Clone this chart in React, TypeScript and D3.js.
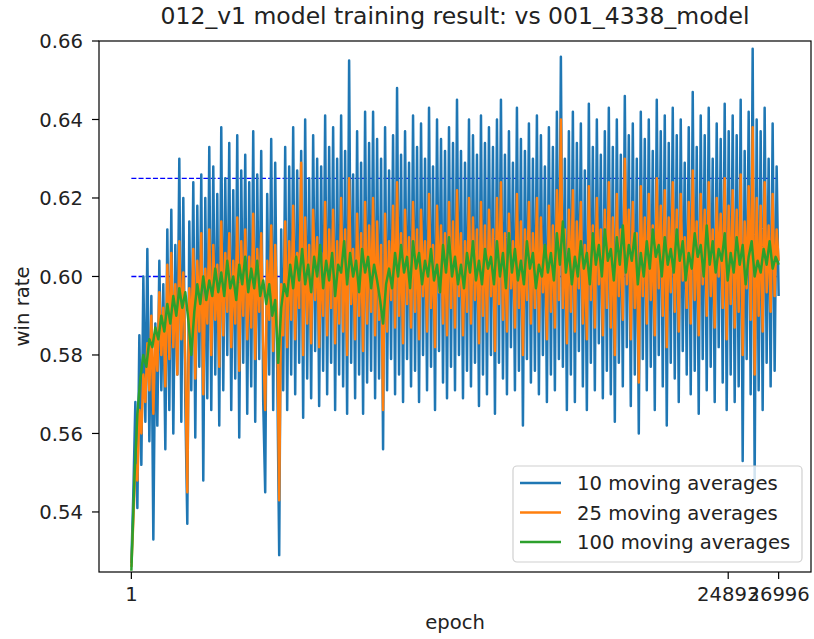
import React from "react";
import * as d3 from "d3";

const TITLE = "012_v1 model training result: vs 001_4338_model";
const X_LABEL = "epoch";
const Y_LABEL = "win rate";
const FIRST_EPOCH = 1;
const LAST_EPOCH = 26996;
const X_TICKS = [1, 24893, 26996];
const Y_TICKS = [0.54, 0.56, 0.58, 0.6, 0.62, 0.64, 0.66];
const REF_LINES = [0.625, 0.6];
const SERIES_NAMES = ["10 moving averages", "25 moving averages", "100 moving averages"];
const COLORS = ["#1f77b4", "#ff7f0e", "#2ca02c"];

const ma10 = [
  0.527, 0.545, 0.568, 0.541, 0.585, 0.552, 0.600, 0.563, 0.607, 0.558, 0.595, 0.533, 0.588, 0.562, 0.604, 0.571, 0.598, 0.556, 0.612, 0.566,
  0.617, 0.560, 0.608, 0.575, 0.630, 0.563, 0.620, 0.568, 0.537, 0.614, 0.571, 0.624, 0.559, 0.618, 0.577, 0.626, 0.548, 0.620, 0.569, 0.633,
  0.566, 0.628, 0.575, 0.621, 0.562, 0.638, 0.571, 0.625, 0.580, 0.634, 0.566, 0.622, 0.574, 0.636, 0.559, 0.627, 0.578, 0.631, 0.565, 0.624,
  0.572, 0.637, 0.563, 0.626, 0.579, 0.632, 0.568, 0.545, 0.621, 0.575, 0.635, 0.566, 0.629, 0.577, 0.529, 0.612, 0.571, 0.633, 0.566, 0.628,
  0.575, 0.638, 0.570, 0.627, 0.578, 0.632, 0.564, 0.640, 0.574, 0.625, 0.569, 0.636, 0.581, 0.630, 0.567, 0.628, 0.576, 0.641, 0.570, 0.633,
  0.578, 0.638, 0.566, 0.630, 0.575, 0.641, 0.572, 0.632, 0.565, 0.655, 0.578, 0.626, 0.569, 0.637, 0.575, 0.629, 0.565, 0.642, 0.573, 0.634,
  0.576, 0.642, 0.569, 0.635, 0.574, 0.630, 0.556, 0.638, 0.571, 0.627, 0.579, 0.636, 0.570, 0.648, 0.575, 0.631, 0.568, 0.637, 0.579, 0.629,
  0.572, 0.641, 0.576, 0.633, 0.568, 0.639, 0.580, 0.630, 0.571, 0.643, 0.577, 0.628, 0.566, 0.640, 0.581, 0.635, 0.573, 0.632, 0.569, 0.638,
  0.577, 0.634, 0.571, 0.645, 0.580, 0.632, 0.569, 0.629, 0.576, 0.640, 0.572, 0.636, 0.578, 0.631, 0.567, 0.641, 0.575, 0.634, 0.570, 0.638,
  0.580, 0.633, 0.565, 0.640, 0.578, 0.645, 0.574, 0.631, 0.570, 0.637, 0.582, 0.629, 0.571, 0.643, 0.576, 0.635, 0.562, 0.632, 0.579, 0.639,
  0.573, 0.630, 0.576, 0.641, 0.570, 0.636, 0.580, 0.628, 0.568, 0.638, 0.575, 0.633, 0.571, 0.642, 0.579, 0.656, 0.577, 0.630, 0.566, 0.637,
  0.575, 0.642, 0.568, 0.634, 0.581, 0.639, 0.572, 0.627, 0.566, 0.644, 0.578, 0.633, 0.571, 0.640, 0.583, 0.631, 0.569, 0.637, 0.576, 0.643,
  0.570, 0.633, 0.563, 0.640, 0.578, 0.631, 0.572, 0.646, 0.582, 0.636, 0.567, 0.639, 0.575, 0.630, 0.560, 0.642, 0.579, 0.635, 0.571, 0.640,
  0.577, 0.632, 0.566, 0.645, 0.580, 0.637, 0.572, 0.641, 0.562, 0.634, 0.578, 0.643, 0.574, 0.636, 0.568, 0.640, 0.581, 0.629, 0.575, 0.638,
  0.570, 0.647, 0.576, 0.633, 0.565, 0.641, 0.579, 0.636, 0.571, 0.643, 0.577, 0.630, 0.568, 0.639, 0.582, 0.635, 0.573, 0.644, 0.566, 0.637,
  0.575, 0.641, 0.568, 0.636, 0.572, 0.645, 0.553, 0.632, 0.579, 0.642, 0.570, 0.658, 0.548, 0.640, 0.571, 0.637, 0.566, 0.643, 0.578, 0.630,
  0.572, 0.639, 0.576, 0.628, 0.595,
];

const ma25 = [
  0.526, 0.538, 0.552, 0.548, 0.566, 0.560, 0.575, 0.568, 0.583, 0.571, 0.590, 0.565, 0.586, 0.576, 0.596, 0.580, 0.592, 0.572, 0.603, 0.579,
  0.606, 0.582, 0.598, 0.575, 0.609, 0.584, 0.601, 0.578, 0.545, 0.597, 0.583, 0.607, 0.574, 0.604, 0.586, 0.611, 0.570, 0.602, 0.588, 0.612,
  0.580, 0.608, 0.589, 0.603, 0.577, 0.614, 0.585, 0.606, 0.591, 0.611, 0.582, 0.604, 0.588, 0.615, 0.576, 0.609, 0.590, 0.612, 0.584, 0.605,
  0.587, 0.616, 0.579, 0.607, 0.591, 0.611, 0.583, 0.566, 0.604, 0.589, 0.613, 0.581, 0.608, 0.590, 0.543, 0.598, 0.585, 0.614, 0.582, 0.609,
  0.589, 0.618, 0.584, 0.606, 0.592, 0.629, 0.580, 0.615, 0.588, 0.608, 0.583, 0.617, 0.594, 0.610, 0.582, 0.606, 0.590, 0.619, 0.585, 0.612,
  0.592, 0.617, 0.583, 0.609, 0.588, 0.620, 0.586, 0.612, 0.580, 0.625, 0.593, 0.607, 0.584, 0.616, 0.590, 0.611, 0.581, 0.619, 0.588, 0.613,
  0.591, 0.620, 0.585, 0.614, 0.589, 0.608, 0.566, 0.616, 0.586, 0.609, 0.594, 0.618, 0.587, 0.624, 0.590, 0.611, 0.583, 0.617, 0.593, 0.610,
  0.587, 0.619, 0.591, 0.612, 0.584, 0.617, 0.595, 0.609, 0.586, 0.621, 0.592, 0.608, 0.582, 0.618, 0.596, 0.613, 0.588, 0.611, 0.585, 0.619,
  0.592, 0.614, 0.587, 0.622, 0.595, 0.611, 0.585, 0.609, 0.591, 0.620, 0.588, 0.615, 0.594, 0.612, 0.583, 0.619, 0.590, 0.613, 0.586, 0.617,
  0.595, 0.612, 0.581, 0.620, 0.593, 0.624, 0.589, 0.611, 0.586, 0.616, 0.597, 0.609, 0.587, 0.621, 0.592, 0.614, 0.580, 0.612, 0.594, 0.619,
  0.588, 0.611, 0.592, 0.620, 0.586, 0.615, 0.596, 0.608, 0.584, 0.618, 0.591, 0.613, 0.587, 0.622, 0.594, 0.640, 0.592, 0.612, 0.583, 0.617,
  0.591, 0.622, 0.586, 0.614, 0.597, 0.619, 0.588, 0.608, 0.584, 0.623, 0.594, 0.613, 0.587, 0.620, 0.598, 0.612, 0.585, 0.617, 0.592, 0.624,
  0.587, 0.615, 0.580, 0.621, 0.595, 0.612, 0.589, 0.630, 0.598, 0.617, 0.584, 0.619, 0.592, 0.611, 0.573, 0.623, 0.595, 0.615, 0.588, 0.621,
  0.594, 0.613, 0.585, 0.625, 0.597, 0.618, 0.590, 0.622, 0.582, 0.615, 0.596, 0.624, 0.591, 0.617, 0.586, 0.621, 0.599, 0.610, 0.592, 0.619,
  0.588, 0.627, 0.594, 0.614, 0.585, 0.621, 0.598, 0.617, 0.590, 0.624, 0.595, 0.612, 0.587, 0.620, 0.600, 0.616, 0.592, 0.625, 0.584, 0.618,
  0.593, 0.622, 0.587, 0.617, 0.591, 0.626, 0.580, 0.614, 0.597, 0.623, 0.589, 0.638, 0.575, 0.620, 0.590, 0.618, 0.586, 0.624, 0.596, 0.613,
  0.591, 0.621, 0.595, 0.612, 0.604,
];

const ma100 = [
  0.525, 0.548, 0.565, 0.574, 0.580, 0.577, 0.584, 0.582, 0.587, 0.584,
  0.590, 0.586, 0.593, 0.588, 0.595, 0.590, 0.597, 0.592, 0.596, 0.589,
  0.580, 0.591, 0.598, 0.593, 0.600, 0.594, 0.599, 0.595, 0.602, 0.596,
  0.601, 0.595, 0.604, 0.597, 0.600, 0.594, 0.603, 0.598, 0.605, 0.596,
  0.602, 0.597, 0.604, 0.595, 0.599, 0.593, 0.598, 0.590, 0.594, 0.578,
  0.592, 0.598, 0.595, 0.603, 0.597, 0.605, 0.599, 0.607, 0.598, 0.603,
  0.596, 0.605, 0.600, 0.608, 0.597, 0.604, 0.599, 0.606, 0.595, 0.603,
  0.601, 0.609, 0.598, 0.606, 0.600, 0.604, 0.596, 0.607, 0.601, 0.605,
  0.597, 0.603, 0.599, 0.594, 0.588, 0.598, 0.602, 0.597, 0.606, 0.600,
  0.608, 0.601, 0.605, 0.597, 0.609, 0.602, 0.606, 0.598, 0.604, 0.600,
  0.607, 0.599, 0.603, 0.596, 0.608, 0.601, 0.610, 0.600, 0.605, 0.598,
  0.603, 0.597, 0.606, 0.601, 0.609, 0.599, 0.604, 0.598, 0.607, 0.602,
  0.605, 0.598, 0.609, 0.600, 0.606, 0.597, 0.611, 0.601, 0.607, 0.599,
  0.604, 0.598, 0.609, 0.602, 0.606, 0.597, 0.603, 0.600, 0.608, 0.601,
  0.606, 0.599, 0.611, 0.603, 0.614, 0.601, 0.607, 0.598, 0.605, 0.600,
  0.609, 0.602, 0.606, 0.598, 0.611, 0.603, 0.608, 0.600, 0.612, 0.604,
  0.607, 0.599, 0.610, 0.603, 0.613, 0.601, 0.608, 0.604, 0.611, 0.598,
  0.606, 0.600, 0.609, 0.602, 0.612, 0.605, 0.608, 0.600, 0.610, 0.603,
  0.607, 0.601, 0.612, 0.604, 0.609, 0.599, 0.606, 0.602, 0.611, 0.605,
  0.608, 0.600, 0.613, 0.603, 0.609, 0.601, 0.607, 0.604, 0.611, 0.599,
  0.606, 0.601, 0.610, 0.603, 0.608, 0.598, 0.605, 0.609, 0.600, 0.604,
  0.601, 0.607, 0.603, 0.609, 0.602, 0.605, 0.603,
];

const SERIES = [ma10, ma25, ma100];

const W = 814;
const H = 639;
const PL = 99, PR = 811, PT = 41, PB = 572;
const FONT = "'DejaVu Sans', sans-serif";
const FS = 19.6;
const LW = 2.5;

function toPoints(vals: number[]) {
  const n = vals.length;
  return vals.map((v, i) => ({
    epoch: FIRST_EPOCH + (i * (LAST_EPOCH - FIRST_EPOCH)) / (n - 1),
    v,
  }));
}

export default function App() {
  const span = LAST_EPOCH - FIRST_EPOCH;
  const x = d3
    .scaleLinear()
    .domain([FIRST_EPOCH - span * 0.05, LAST_EPOCH + span * 0.05])
    .range([PL, PR]);
  const y = d3.scaleLinear().domain([0.5247, 0.66]).range([PB, PT]);
  const line = d3
    .line<{ epoch: number; v: number }>()
    .x((d) => x(d.epoch))
    .y((d) => y(d.v));

  const legX = 513, legY = 466, legW = 289, legH = 96;

  return (
    <div style={{ position: "absolute", left: 0, top: 0 }}>
      <svg width={W} height={H} style={{ display: "block", background: "#fff" }}>
        <defs>
          <clipPath id="plotclip">
            <rect x={PL} y={PT} width={PR - PL} height={PB - PT} />
          </clipPath>
        </defs>
        <g clipPath="url(#plotclip)">
          {REF_LINES.map((r, k) => (
            <line
              key={k}
              x1={x(FIRST_EPOCH)}
              x2={x(LAST_EPOCH)}
              y1={y(r)}
              y2={y(r)}
              stroke="#0000ff"
              strokeWidth={1.3}
              strokeDasharray="5,2.2"
            />
          ))}
          {SERIES.map((s, k) => (
            <path
              key={k}
              d={line(toPoints(s)) || ""}
              fill="none"
              stroke={COLORS[k]}
              strokeWidth={LW}
              strokeLinejoin="round"
            />
          ))}
        </g>
        <rect x={PL} y={PT} width={PR - PL} height={PB - PT} fill="none" stroke="#000" strokeWidth={1.2} />
        {Y_TICKS.map((t) => (
          <g key={t}>
            <line x1={PL - 7} x2={PL} y1={y(t)} y2={y(t)} stroke="#000" strokeWidth={1.2} />
            <text
              x={PL - 16}
              y={y(t)}
              dy="0.36em"
              textAnchor="end"
              fontFamily={FONT}
              fontSize={FS}
              fill="#222"
            >
              {t.toFixed(2)}
            </text>
          </g>
        ))}
        {X_TICKS.map((t) => (
          <g key={t}>
            <line x1={x(t)} x2={x(t)} y1={PB} y2={PB + 7} stroke="#000" strokeWidth={1.2} />
            <text
              x={x(t)}
              y={PB + 29}
              textAnchor="middle"
              fontFamily={FONT}
              fontSize={FS}
              fill="#222"
            >
              {String(t)}
            </text>
          </g>
        ))}
        <text x={(PL + PR) / 2} y={629} textAnchor="middle" fontFamily={FONT} fontSize={FS} fill="#222">
          {X_LABEL}
        </text>
        <text
          transform={`translate(29,${(PT + PB) / 2}) rotate(-90)`}
          textAnchor="middle"
          fontFamily={FONT}
          fontSize={FS}
          fill="#222"
        >
          {Y_LABEL}
        </text>
        <text x={(PL + PR) / 2} y={24} textAnchor="middle" fontFamily={FONT} fontSize={23.5} fill="#222">
          {TITLE}
        </text>
        <rect
          x={legX}
          y={legY}
          width={legW}
          height={legH}
          rx={4}
          fill="#fff"
          fillOpacity={0.8}
          stroke="#d0d0d0"
          strokeWidth={1.2}
        />
        {SERIES_NAMES.map((name, k) => {
          const cy = legY + 17 + k * 29.5;
          return (
            <g key={name}>
              <line x1={520} x2={561} y1={cy} y2={cy} stroke={COLORS[k]} strokeWidth={LW} />
              <text x={577} y={cy} dy="0.36em" fontFamily={FONT} fontSize={FS} fill="#222">
                {name}
              </text>
            </g>
          );
        })}
      </svg>
    </div>
  );
}
